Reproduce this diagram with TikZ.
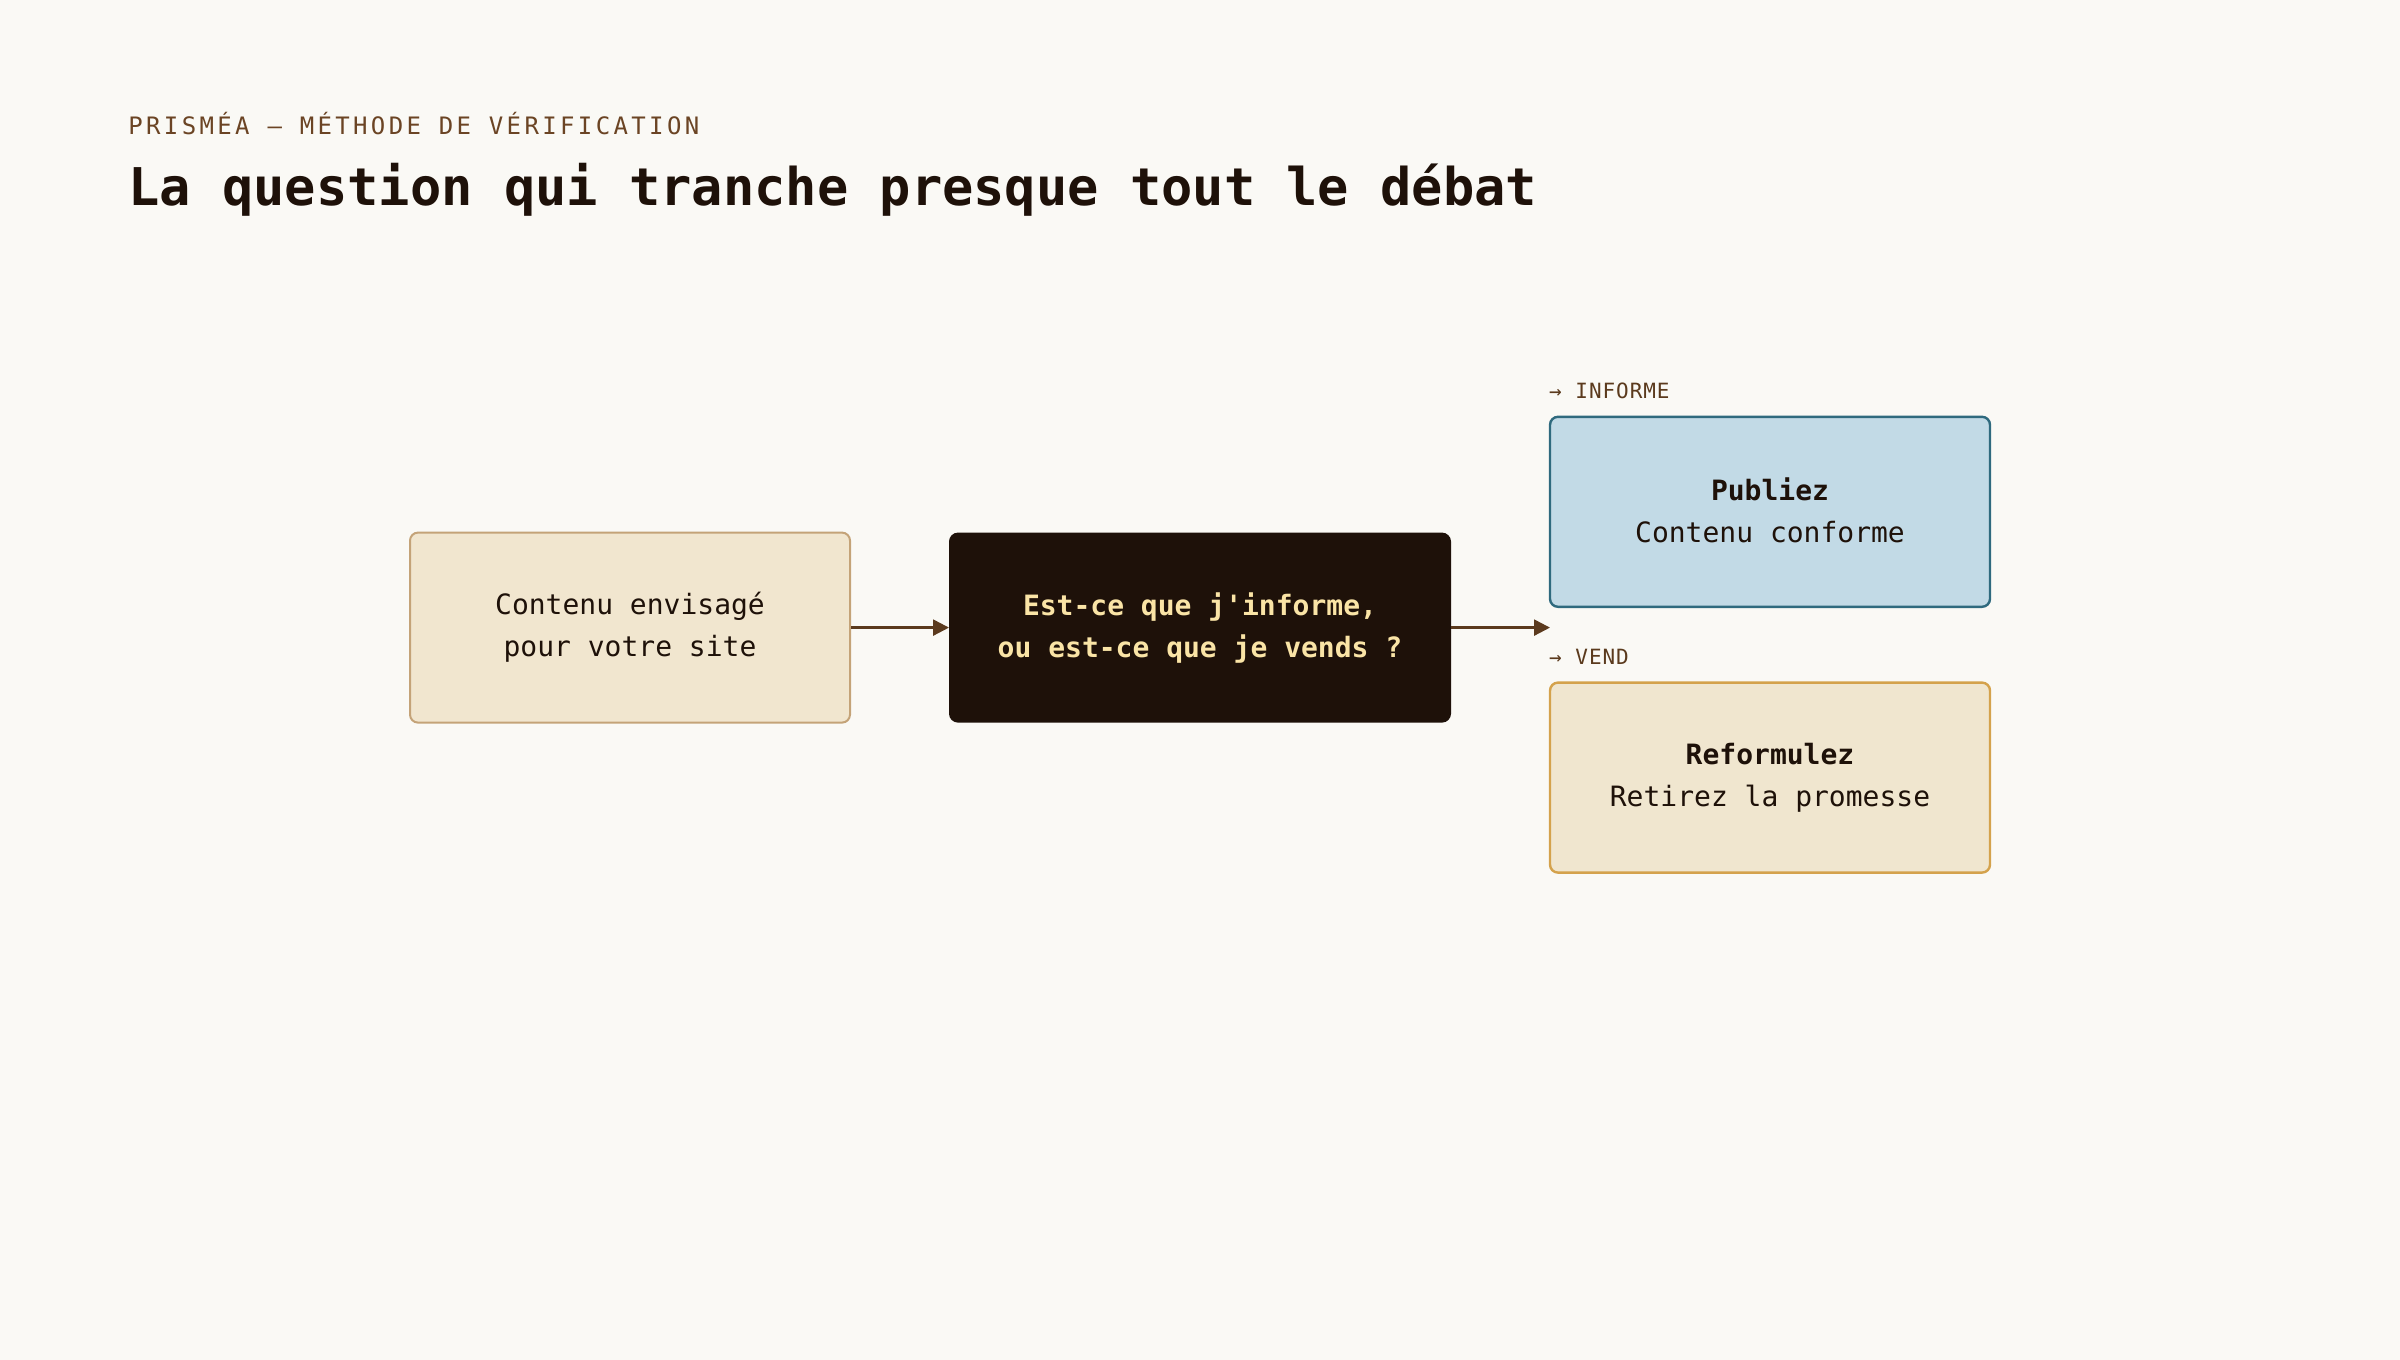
\documentclass[tikz,border=0pt]{standalone}
\usepackage{fontspec}
\setmonofont{DejaVu Sans Mono}
\newfontfamily\kickerfont{DejaVu Sans Mono}[LetterSpace=14]
\newfontfamily\tagfont{DejaVu Sans Mono}[LetterSpace=4.5]
\usetikzlibrary{arrows.meta,positioning}
\definecolor{paper}{HTML}{FAF9F5}
\definecolor{ink}{HTML}{1E1109}
\definecolor{kicker}{HTML}{6B4424}
\definecolor{cream}{HTML}{FAE4A6}
\definecolor{sand}{HTML}{F1E6CF}
\definecolor{tan}{HTML}{C4A378}
\definecolor{sky}{HTML}{C2DAE6}
\definecolor{teal}{HTML}{2F6A7E}
\definecolor{wheat}{HTML}{F0E6CF}
\definecolor{ochre}{HTML}{D4A24C}
\definecolor{bark}{HTML}{5B3A1D}

\tikzset{
  box/.style={draw, rectangle, rounded corners=4pt, minimum width=220pt, minimum height=95pt, align=center, text=ink, line width=1pt, font=\ttfamily\fontsize{14}{21}\selectfont},
  tag/.style={inner sep=0pt, anchor=base west, text=bark, font=\tagfont\fontsize{10.5}{12}\selectfont},
  flow/.style={-{Triangle[length=8pt,width=8pt]}, line width=1.2pt, draw=bark}
}

\begin{document}
\begin{tikzpicture}[x=1pt, y=1pt, node distance=285pt]
\fill[paper] (0,0) rectangle (1200,-680);

\node[inner sep=0pt, anchor=base west, text=kicker, font=\kickerfont\fontsize{12}{14}\selectfont] (kick) at (64,-67.2) {PRISMÉA — MÉTHODE DE VÉRIFICATION};
\node[inner sep=0pt, anchor=base west, text=ink, font=\ttfamily\bfseries\fontsize{26}{30}\selectfont] (title) at (64,-102.5) {La question qui tranche presque tout le débat};

\node[box, fill=sand, draw=tan] (idea) at (315,-313.8) {Contenu envisagé\\pour votre site};
\node[box, fill=ink, draw=ink, text=cream, minimum width=250pt, minimum height=94pt, font=\ttfamily\bfseries\fontsize{14}{21}\selectfont, right of=idea] (ask) {Est-ce que j'informe,\\ou est-ce que je vends ?};
\coordinate[right of=ask, xshift=-110pt] (fork);

\node[box, fill=sky, draw=teal, line width=1.2pt, right of=ask, yshift=57.9pt] (pub) {\raisebox{1.2pt}{\textbf{Publiez}}\\\raisebox{1.2pt}{Contenu conforme}};
\node[box, fill=wheat, draw=ochre, line width=1.2pt, right of=ask, yshift=-75pt] (ref) {\textbf{Reformulez}\\Retirez la promesse};

\node[tag] (tinf) at ([yshift=8.7pt] pub.north west) {→ INFORME};
\node[tag] (tvend) at ([yshift=8.7pt] ref.north west) {→ VEND};

\draw[flow] (idea) -- (ask);
\draw[flow] (ask) -- (fork);
\end{tikzpicture}
\end{document}
